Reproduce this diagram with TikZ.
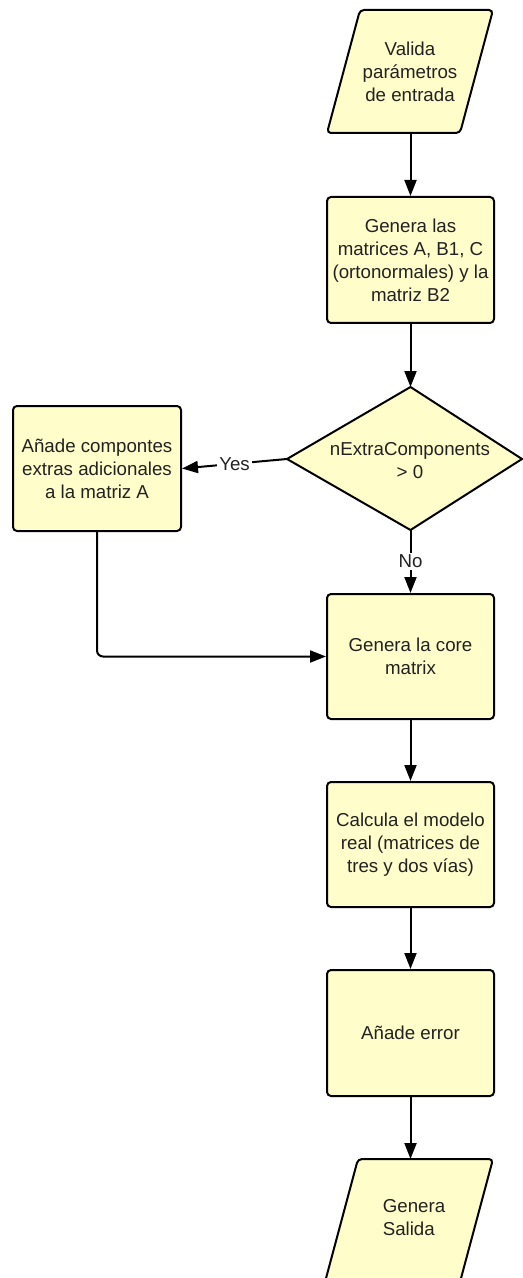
\documentclass[tikz,border=0pt]{standalone}
\usepackage{fontspec}
\setmainfont{Liberation Sans}
\usetikzlibrary{arrows.meta}
\definecolor{boxfill}{HTML}{FFFDC9}
\definecolor{ink}{HTML}{222222}
\begin{document}
\begin{tikzpicture}[x=0.5pt,y=-0.5pt,
  every node/.style={font=\fontsize{9.35pt}{11.5pt}\selectfont, text=ink},
  procbox/.style={draw=black, fill=boxfill, line width=1pt, rounded corners=2pt,
    minimum width=83.5pt, minimum height=63pt, align=center, inner sep=0pt},
  shapeline/.style={draw=black, fill=boxfill, line width=1pt, rounded corners=2pt},
  flow/.style={draw=black, line width=1pt, -{Triangle[length=8pt,width=6pt]}},
  lbl/.style={fill=white, inner sep=1pt}
]
\useasboundingbox (0,0) rectangle (523,1278);

% input parallelogram
\path[shapeline] (360,10) -- (493,10) -- (460,133) -- (327,133) -- cycle;
\node[align=center] (valida) at (410,72) {Valida\\parámetros\\de entrada};
\coordinate (valida-out) at (410.5,133);

% process steps
\node[procbox] (genera) at (410.5,260) {Genera las\\matrices A, B1, C\\(ortonormales) y la\\matriz B2};

% decision
\path[shapeline, rounded corners=0pt]
  (287,459) coordinate (dL) -- (410.5,387) coordinate (dT) --
  (522,459) coordinate (dR) -- (410.5,530) coordinate (dB) -- cycle;
\node[align=center] (cond) at (410,461) {nExtraComponents\\> 0};

\node[procbox, minimum width=84pt, minimum height=62.5pt] (extra) at (97,468.5)
  {Añade compontes\\extras adicionales\\a la matriz A};
\node[procbox, minimum height=62.5pt] (core) at (410.5,656.5) {Genera la core\\matrix};
\node[procbox, minimum height=62.5pt] (calc) at (410.5,844.5) {Calcula el modelo\\real (matrices de\\tres y dos vías)};
\node[procbox] (err) at (410.5,1033) {Añade error};

% output parallelogram
\path[shapeline] (358,1159) -- (493,1159) -- (460,1282) -- (325,1282) -- cycle;
\node[align=left] (salida) at (414,1218) {Genera\\Salida};
\coordinate (salida-in) at (410.5,1159);

% connectors
\draw[flow] (valida-out) -- (genera.north);
\draw[flow] (genera.south) -- (dT);
\draw[flow] (dL) -- node[lbl] {Yes} (extra.east);
\draw[flow] (dB) -- node[lbl] {No} (core.north);
\draw[flow, rounded corners=3pt] (extra.south) |- (core.west);
\draw[flow] (core.south) -- (calc.north);
\draw[flow] (calc.south) -- (err.north);
\draw[flow] (err.south) -- (salida-in);
\end{tikzpicture}
\end{document}
